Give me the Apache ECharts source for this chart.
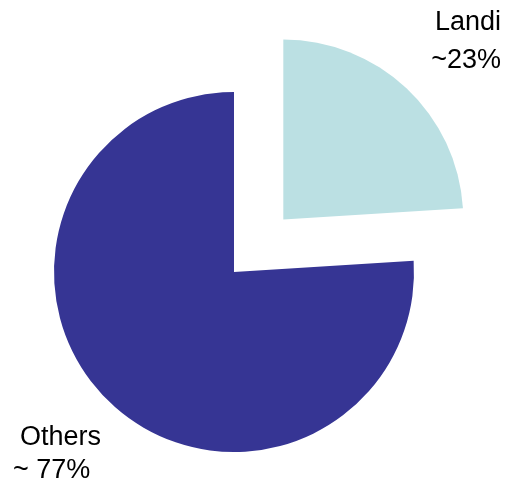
<!DOCTYPE html>
<html>
<head>
<meta charset="utf-8">
<script src="https://cdn.jsdelivr.net/npm/echarts@6/dist/echarts.min.js"></script>
<style>
  html, body { margin: 0; padding: 0; background: #fff; }
  #chart { width: 510px; height: 482px; }
</style>
</head>
<body>
<div id="chart"></div>
<script>
// slice data
const names = ['Landi', 'Others'];
const values = [24, 76];
const labelTop = ['Landi', 'Others'];
const labelBottom = ['~23%', '~ 77%'];
const colors = ['#bbe0e3', '#363594'];

const chart = echarts.init(document.getElementById('chart'));

const font = 'Liberation Sans, Arial, sans-serif';

// pie centre, and the pulled-out centre for the exploded slice
const centers = [[283.3, 219.5], [234, 272]];
// where each label block sits
const labelPos = [
  { x: 501, y: 42, align: 'right' },
  { x: 13, y: 454, align: 'left' }
];

// one series per slice so the exploded slice can be moved out;
// the other slice in each series is left invisible
const series = names.map((_, s) => ({
  type: 'pie',
  center: centers[s],
  radius: [0, 180],
  startAngle: 90,
  clockwise: true,
  silent: true,
  avoidLabelOverlap: false,
  emphasis: { disabled: true },
  itemStyle: { borderWidth: 0 },
  labelLine: { show: false },
  label: {
    position: 'outside',
    color: '#000',
    fontFamily: font,
    fontSize: 27,
    lineHeight: 38,
    formatter: p => p.dataIndex === 1
      ? '{a|' + labelTop[1] + '}\n{b|' + labelBottom[1] + '}'
      : labelTop[0] + '\n' + labelBottom[0],
    rich: {
      a: { fontSize: 27, color: '#000', padding: [0, 0, 0, 7], lineHeight: 33, fontFamily: font },
      b: { fontSize: 27, color: '#000', lineHeight: 33, fontFamily: font }
    }
  },
  labelLayout: p => {
    const l = labelPos[p.dataIndex];
    return { x: l.x, y: l.y, align: l.align, verticalAlign: 'middle' };
  },
  data: names.map((n, i) => ({
    name: n,
    value: values[i],
    itemStyle: { color: i === s ? colors[i] : 'rgba(0,0,0,0)' },
    label: { show: i === s }
  }))
}));

chart.setOption({ animation: false, series: series });
</script>
</body>
</html>
